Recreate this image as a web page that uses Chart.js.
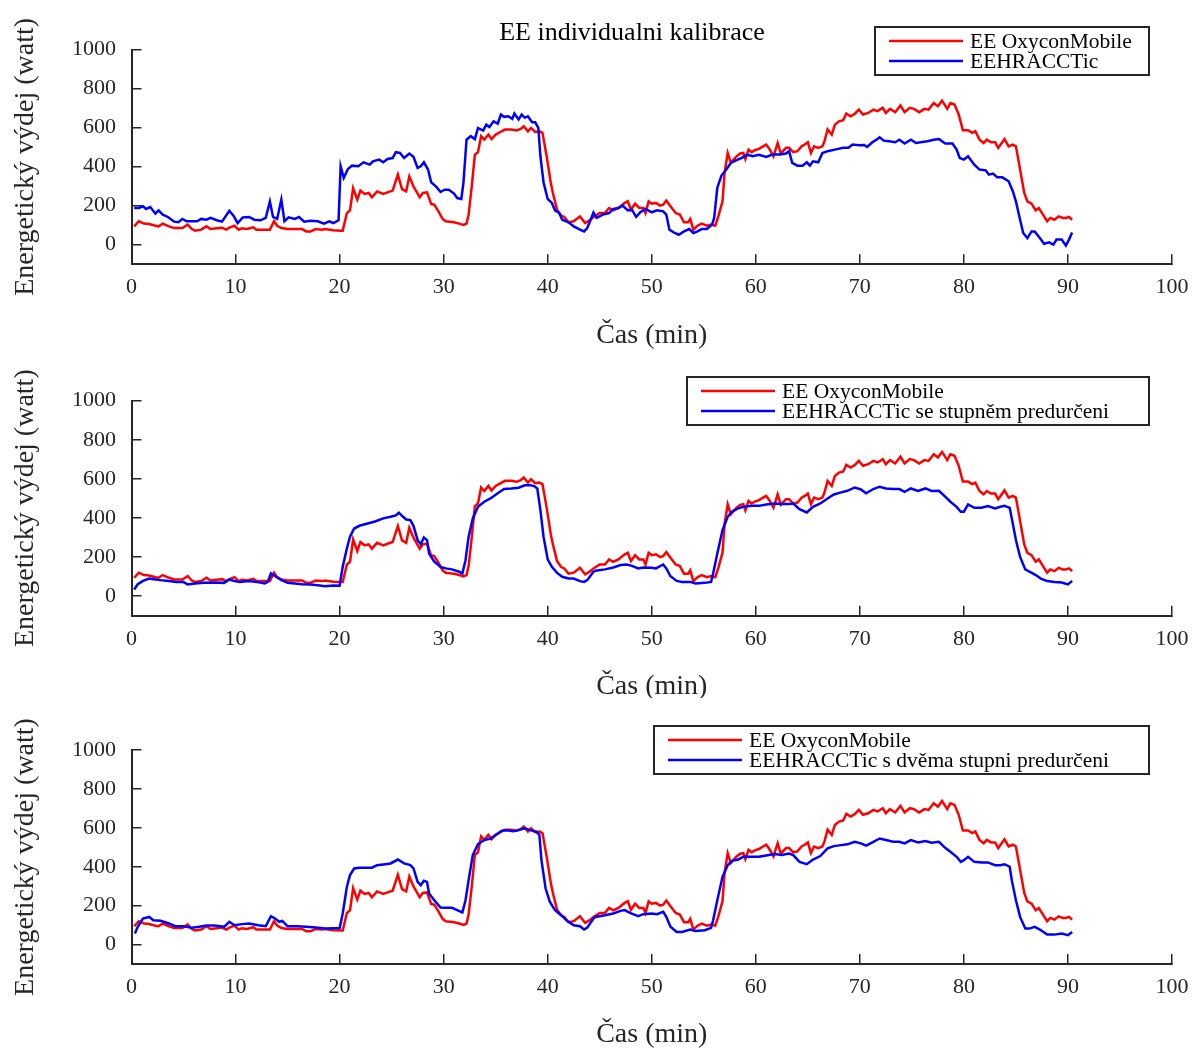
<!DOCTYPE html>
<html>
<head>
<meta charset="utf-8">
<title>EE individualni kalibrace</title>
<script src="https://cdn.jsdelivr.net/npm/chart.js@4.4.0/dist/chart.umd.min.js"></script>
<style>
  html, body { margin: 0; padding: 0; background: #ffffff; }
  #figure { position: relative; width: 1193px; height: 1048px; overflow: hidden; background: #ffffff; }
  #figure canvas { position: absolute; left: 0; }
</style>
</head>
<body>
<div id="figure">
  <canvas id="panelInd" width="1193" height="349" style="top:0px"></canvas>
  <canvas id="panelOne" width="1193" height="349" style="top:349px"></canvas>
  <canvas id="panelTwo" width="1193" height="350" style="top:698px"></canvas>
</div>
<script>
// ---- axis ticks ----
const minuteTicks = [0, 10, 20, 30, 40, 50, 60, 70, 80, 90, 100];
const wattTicks = [0, 200, 400, 600, 800, 1000];

// ---- labels ----
const headingInd = 'EE individualni kalibrace';
const xTitle = 'Čas (min)';
const yTitle = 'Energetický výdej (watt)';
const oxyLabel = 'EE OxyconMobile';
const indLabel = 'EEHRACCTic';
const oneStepLabel = 'EEHRACCTic se stupněm predurčeni';
const twoStepLabel = 'EEHRACCTic s dvěma stupni predurčeni';

// ---- measured energy expenditure (OxyconMobile), min / W ----
const oxyTime = [0.26,0.7,1.2,1.7,2.3,2.6,3.0,3.6,4.1,4.9,5.4,5.8,6.1,6.7,7.2,7.6,8.2,8.7,9.1,9.4,9.9,10.3,10.6,11.1,11.7,12.0,12.8,13.3,13.7,14.0,14.4,15.0,15.7,16.4,16.8,17.2,17.7,18.3,18.6,19.4,20.1,20.3,20.7,21.0,21.3,21.7,22.0,22.4,22.8,23.1,23.6,24.2,24.6,25.1,25.6,26.0,26.4,26.7,27.1,27.7,28.0,28.4,28.8,29.1,29.5,29.9,30.2,31.0,31.5,31.9,32.2,32.4,32.7,33.0,33.3,33.6,33.9,34.3,34.6,35.0,35.4,35.9,36.5,37.0,37.4,37.7,38.1,38.4,38.8,39.2,39.5,39.9,40.3,40.5,40.9,41.3,41.6,42.0,42.5,43.1,43.6,44.1,44.4,45.0,45.5,45.9,46.3,46.8,47.4,47.7,48.0,48.4,48.8,49.2,49.4,49.7,50.0,50.4,50.8,51.1,51.4,51.8,52.3,52.7,53.1,53.5,53.7,54.0,54.4,54.8,55.3,55.7,56.1,56.4,56.8,57.0,57.3,57.6,58.1,58.5,58.8,59.0,59.3,59.6,59.9,60.3,60.7,61.0,61.3,61.7,62.1,62.4,62.9,63.2,63.6,64.0,64.4,64.7,65.0,65.3,65.6,66.0,66.4,66.6,66.9,67.3,67.6,68.0,68.4,68.7,69.1,69.5,69.9,70.3,70.8,71.3,71.7,72.2,72.5,72.9,73.4,73.9,74.3,74.8,75.2,75.7,76.2,76.6,77.1,77.5,77.9,78.4,78.7,79.1,79.5,79.9,80.4,80.8,81.1,81.5,81.9,82.2,82.6,83.0,83.3,83.9,84.3,84.7,85.0,85.4,85.8,86.1,86.5,86.9,87.2,87.6,88.0,88.3,88.7,89.1,89.5,89.8,90.1,90.4];
const oxyWatts = [94,120,108,106,97,94,108,94,85,85,103,80,72,77,94,80,84,87,77,87,97,77,84,80,89,77,77,77,120,97,85,80,80,80,68,68,80,77,80,74,72,72,162,176,290,231,277,260,265,243,273,260,268,277,359,285,273,350,299,243,265,268,209,205,171,132,120,115,108,101,108,154,299,461,474,556,538,564,541,564,576,590,590,585,593,607,581,598,578,581,573,453,316,265,179,149,142,115,120,145,111,128,142,162,162,188,176,188,214,222,179,210,188,188,162,222,210,214,200,205,226,197,162,154,115,115,132,77,97,108,97,103,97,145,222,368,470,419,450,467,470,439,487,474,484,491,504,513,491,453,521,467,496,496,474,479,504,513,525,470,504,496,504,530,590,564,615,632,638,672,658,670,692,667,675,692,684,701,675,696,679,713,679,701,696,679,696,692,726,709,738,696,726,718,667,586,586,573,581,538,521,538,525,525,496,541,504,513,504,385,265,222,210,176,188,154,120,137,128,145,137,137,142,128];

// ---- HR+ACC estimate, individual calibration ----
const indTime = [0.26,0.7,1.1,1.4,1.8,2.3,2.6,3.0,3.5,4.1,4.5,4.9,5.3,5.8,6.3,6.7,7.2,7.6,8.2,8.7,9.4,9.8,10.2,10.7,11.3,11.8,12.4,12.9,13.3,13.6,14.0,14.4,14.7,15.1,15.7,16.1,16.6,17.2,17.9,18.5,19.0,19.4,19.9,20.1,20.4,20.8,21.2,21.8,22.3,22.9,23.2,23.8,24.2,24.6,25.1,25.4,25.8,26.2,26.7,27.1,27.5,27.8,28.1,28.5,28.8,29.3,29.7,30.1,30.5,31.0,31.3,31.7,31.9,32.2,32.6,33.0,33.3,33.8,34.1,34.4,34.8,35.2,35.5,35.8,36.2,36.6,36.8,37.2,37.5,37.8,38.1,38.5,38.8,39.1,39.3,39.6,40.0,40.4,40.7,41.1,41.4,42.0,42.5,43.1,43.5,43.8,44.4,44.7,45.3,45.9,46.3,46.8,47.2,47.7,48.1,48.5,48.9,49.4,50.0,50.5,51.1,51.4,51.7,52.2,52.6,53.1,53.6,54.0,54.4,54.8,55.3,55.8,56.0,56.3,56.7,57.2,57.6,58.1,58.6,59.2,59.7,60.3,61.0,61.6,62.3,62.9,63.2,63.5,64.0,64.5,64.9,65.2,65.5,66.0,66.4,66.9,67.6,68.4,68.9,69.3,69.9,70.4,70.7,71.2,71.6,71.9,72.3,72.8,73.4,73.8,74.3,74.9,75.4,76.0,76.5,77.1,77.6,78.2,78.9,79.3,79.6,80.0,80.4,81.0,81.5,82.1,82.4,82.8,83.2,83.7,84.3,84.7,85.0,85.4,85.7,86.1,86.5,86.8,87.3,87.7,88.2,88.6,88.9,89.4,89.8,90.1,90.4];
const indWatts = [188,188,197,183,193,159,176,154,142,118,115,132,120,120,120,132,128,137,125,118,174,149,111,140,142,128,125,137,222,142,132,231,120,140,132,142,118,123,120,108,120,111,125,402,342,388,405,402,422,410,427,436,422,439,444,474,470,444,467,450,393,402,422,385,320,296,270,282,282,262,239,234,316,538,556,541,598,585,615,603,632,620,667,655,658,645,672,641,667,650,658,627,627,598,453,320,234,214,176,162,128,115,94,77,68,85,164,137,154,162,183,188,200,176,179,142,166,183,166,176,171,154,77,60,51,68,80,60,68,80,80,103,137,291,354,388,419,432,443,460,453,460,450,462,462,467,479,419,405,405,422,405,427,422,470,479,487,497,497,513,509,511,501,525,538,550,533,530,525,538,518,538,521,526,530,538,541,518,518,487,444,436,453,410,385,381,359,364,345,345,325,274,222,128,60,34,68,68,34,5,12,0,26,26,-5,26,63];

// ---- HR+ACC estimate, one-step pre-determination ----
const oneStepTime = [0.26,0.6,1.1,1.7,2.1,2.8,3.6,4.3,5.0,5.4,6.1,6.9,8.0,8.9,9.4,9.9,10.4,11.3,12.0,12.8,13.1,13.4,13.9,14.4,15.0,15.7,16.4,17.2,17.9,18.6,19.4,20.0,20.3,20.7,21.0,21.4,21.9,22.7,23.4,24.2,24.9,25.4,25.7,26.1,26.4,26.8,27.1,27.5,27.8,28.1,28.4,28.6,29.1,29.7,30.2,30.8,31.5,31.8,32.1,32.4,32.8,33.3,33.9,34.5,35.2,35.8,36.5,37.2,37.8,38.3,38.7,39.0,39.3,39.6,40.0,40.4,40.9,41.4,42.0,42.5,43.1,43.5,43.8,44.4,44.6,45.5,46.3,47.0,47.6,48.1,48.7,49.2,50.0,50.4,51.1,51.4,51.8,52.4,52.9,53.7,54.2,55.1,55.7,55.9,56.3,56.8,57.3,57.7,58.3,58.8,59.6,60.3,61.0,61.8,62.5,63.2,63.6,64.2,64.9,65.5,66.2,66.9,67.5,68.2,68.8,69.5,70.1,70.6,71.3,71.9,72.5,73.2,73.8,74.3,74.9,75.6,76.3,76.9,77.6,78.2,78.7,79.3,79.7,80.0,80.4,81.0,81.7,82.3,83.0,83.5,83.9,84.4,84.6,85.0,85.4,85.9,86.3,86.9,87.4,88.0,88.7,89.4,90.0,90.4];
const oneStepWatts = [34,61,78,90,87,82,78,72,72,60,65,68,70,68,85,78,73,77,73,65,73,116,99,82,68,65,61,60,56,51,55,53,150,244,304,346,360,372,382,398,406,413,427,406,392,389,360,287,266,300,287,218,176,150,142,137,125,116,184,304,398,457,483,500,526,548,551,555,567,568,563,551,440,304,188,150,119,99,90,90,77,73,82,125,130,137,147,159,162,155,142,147,145,142,162,142,102,78,72,73,65,68,73,116,218,338,406,432,449,457,462,462,469,474,471,471,474,445,428,457,474,500,520,531,539,556,546,526,548,560,551,548,548,534,551,538,551,538,539,509,483,457,432,432,469,452,452,461,449,457,462,452,398,287,201,137,125,108,90,77,73,70,60,78];

// ---- HR+ACC estimate, two-step pre-determination ----
const twoStepTime = [0.33,0.6,1.1,1.7,2.1,2.8,3.6,4.2,5.0,5.8,6.5,7.2,8.0,8.9,9.4,9.9,10.6,11.3,12.2,12.9,13.4,13.8,14.2,14.5,15.0,15.9,16.8,17.7,18.6,19.4,20.0,20.3,20.7,21.0,21.4,21.9,23.1,23.6,24.2,24.9,25.6,26.2,26.8,27.1,27.5,27.8,28.1,28.4,28.6,29.1,29.7,30.2,30.8,31.3,31.8,32.1,32.4,32.8,33.3,33.9,34.5,35.0,35.6,36.1,36.7,37.2,37.8,38.3,38.9,39.2,39.4,39.8,40.2,40.7,41.3,41.8,42.5,43.1,43.5,43.8,44.4,44.6,45.5,46.3,47.0,47.4,47.9,48.7,49.2,50.0,50.5,51.1,51.4,51.8,52.4,52.9,53.7,54.2,55.1,55.7,55.9,56.3,56.8,57.3,57.7,58.3,58.8,59.6,60.3,61.0,61.8,62.5,63.2,63.6,64.2,64.9,65.5,66.2,66.9,67.5,68.2,68.8,69.5,70.1,70.6,71.3,71.9,72.5,73.2,73.8,74.3,74.9,75.6,76.3,76.9,77.6,78.2,78.7,79.3,79.7,80.0,80.4,81.0,81.7,82.3,83.0,83.5,83.9,84.4,84.6,85.0,85.4,85.9,86.3,86.8,87.3,88.0,88.7,89.4,90.0,90.4];
const twoStepWatts = [57,91,134,142,125,122,108,94,94,86,91,98,98,91,117,99,105,108,99,94,146,134,117,122,94,94,91,87,82,84,84,160,297,357,391,395,395,408,412,417,437,417,408,391,322,305,328,322,262,228,190,189,189,177,165,228,331,460,516,537,545,563,585,588,583,588,597,588,580,563,434,288,220,177,151,125,99,94,77,87,134,142,151,160,173,177,163,146,156,160,156,168,142,91,65,65,77,70,74,86,125,228,348,408,430,437,451,451,451,458,465,460,468,460,425,413,437,455,494,506,511,515,528,520,508,528,545,537,528,528,520,537,525,532,523,528,497,477,451,425,434,451,425,422,422,408,408,413,400,331,228,142,82,82,91,77,51,51,57,48,65];

// ---- styling ----
const SERIF = '"Liberation Serif", "Times New Roman", Times, serif';
const INK = '#262626';
const RED = '#ff0000';
const BLUE = '#0000ff';
const PLOT_LEFT = 131.5;
const PLOT_RIGHT = 1172;
const LINE_W = 2.5;

function toPoints(times, values) {
  return times.map((t, i) => ({ x: t, y: values[i] }));
}

// Heading text and a boxed legend placed inside the axes area.
const panelDecor = {
  id: 'panelDecor',
  afterDraw(chart, args, opts) {
    const ctx = chart.ctx;
    ctx.save();
    if (opts.heading) {
      ctx.font = '26px ' + SERIF;
      ctx.fillStyle = '#000000';
      ctx.textAlign = 'center';
      ctx.textBaseline = 'alphabetic';
      ctx.fillText(opts.heading, opts.headingX, opts.headingY);
    }
    const sets = chart.data.datasets;
    ctx.font = '21.5px ' + SERIF;
    const right = opts.legendRight;
    const left = opts.legendLeft;
    const top = opts.legendTop;
    const h = 48;
    ctx.fillStyle = '#ffffff';
    ctx.fillRect(left, top, right - left, h);
    ctx.strokeStyle = INK;
    ctx.lineWidth = 2;
    ctx.strokeRect(left, top, right - left, h);
    sets.forEach((d, i) => {
      const y = top + 14 + i * 20;
      ctx.strokeStyle = d.borderColor;
      ctx.lineWidth = LINE_W;
      ctx.beginPath();
      ctx.moveTo(left + 14, y);
      ctx.lineTo(left + 88, y);
      ctx.stroke();
      ctx.fillStyle = '#000000';
      ctx.textAlign = 'left';
      ctx.textBaseline = 'middle';
      ctx.fillText(d.label, left + 95, y + 1);
    });
    ctx.restore();
  }
};

function axisCommon() {
  return {
    type: 'linear',
    grid: { drawOnChartArea: false, drawTicks: true, tickLength: -10, color: INK, lineWidth: 1.5 },
    border: { display: true, color: INK, width: 2 }
  };
}

function buildPanel(canvasId, cfg) {
  const canvas = document.getElementById(canvasId);
  const H = canvas.height;
  const xBand = H - cfg.plotBottom;
  const xTitleMid = cfg.plotBottom + 71;
  return new Chart(canvas, {
    type: 'line',
    data: {
      datasets: [
        { label: oxyLabel, data: toPoints(oxyTime, oxyWatts), borderColor: RED, backgroundColor: RED, order: 1 },
        { label: cfg.blueLabel, data: toPoints(cfg.blueTime, cfg.blueWatts), borderColor: BLUE, backgroundColor: BLUE, order: 0 }
      ]
    },
    options: {
      responsive: false,
      animation: false,
      devicePixelRatio: 1,
      events: [],
      elements: {
        line: { borderWidth: LINE_W, tension: 0, fill: false },
        point: { radius: 0, hoverRadius: 0 }
      },
      layout: { padding: { left: 0, right: 1193 - PLOT_RIGHT, top: cfg.plotTop, bottom: 0 } },
      plugins: {
        legend: { display: false },
        tooltip: { enabled: false },
        title: { display: false },
        panelDecor: {
          heading: cfg.heading,
          headingX: 632,
          headingY: 40,
          legendLeft: cfg.legendLeft,
          legendRight: 1149,
          legendTop: cfg.legendTop
        }
      },
      scales: {
        x: Object.assign(axisCommon(), {
          min: 0, max: 100,
          afterBuildTicks: s => { s.ticks = minuteTicks.map(v => ({ value: v })); },
          afterFit: s => { s.height = xBand; s.paddingLeft = 0; s.paddingRight = 0; },
          ticks: {
            padding: 20, color: INK, autoSkip: false, maxRotation: 0,
            font: { family: SERIF, size: 22 },
            callback: v => String(v)
          },
          title: {
            display: true, text: xTitle, color: INK,
            font: { family: SERIF, size: 28 },
            padding: { top: 0, bottom: H - xTitleMid - 16.8 }
          }
        }),
        y: Object.assign(axisCommon(), {
          min: -100, max: 1000,
          afterBuildTicks: s => { s.ticks = wattTicks.map(v => ({ value: v })); },
          afterFit: s => { s.width = PLOT_LEFT; s.paddingTop = 0; s.paddingBottom = 0; },
          ticks: {
            padding: 25.5, color: INK,
            font: { family: SERIF, size: 22 },
            callback: v => String(v)
          },
          title: {
            display: true, text: yTitle, color: INK,
            font: { family: SERIF, size: 28 },
            padding: { top: 9, bottom: 0 }
          }
        })
      }
    },
    plugins: [panelDecor]
  });
}

buildPanel('panelInd', {
  heading: headingInd, plotTop: 49.5, plotBottom: 264.2, legendTop: 27, legendLeft: 875,
  blueLabel: indLabel, blueTime: indTime, blueWatts: indWatts
});
buildPanel('panelOne', {
  heading: null, plotTop: 51.7, plotBottom: 266.7, legendTop: 28, legendLeft: 687,
  blueLabel: oneStepLabel, blueTime: oneStepTime, blueWatts: oneStepWatts
});
buildPanel('panelTwo', {
  heading: null, plotTop: 52, plotBottom: 266, legendTop: 28, legendLeft: 654,
  blueLabel: twoStepLabel, blueTime: twoStepTime, blueWatts: twoStepWatts
});
</script>
</body>
</html>
